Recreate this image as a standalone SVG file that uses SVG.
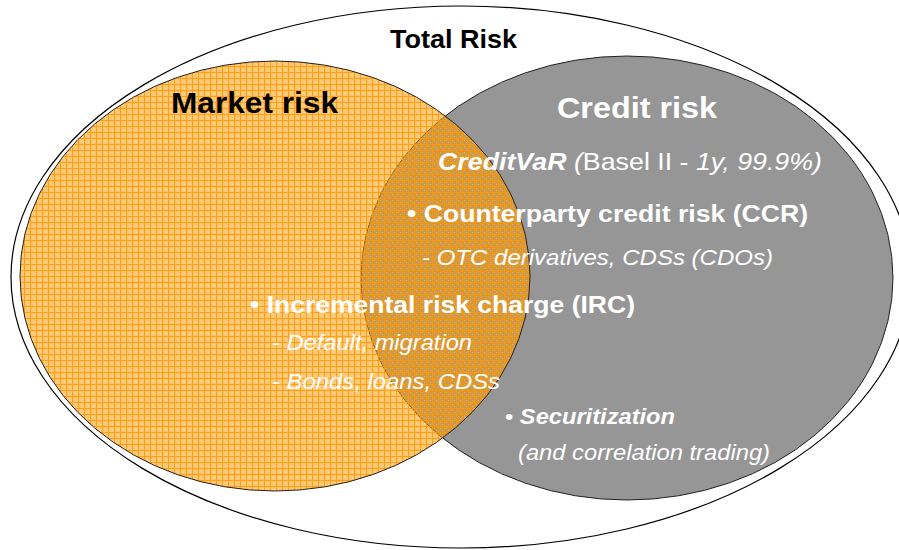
<svg xmlns="http://www.w3.org/2000/svg" width="899" height="550" viewBox="0 0 899 550">
  <defs>
    <!-- woven orange grid used for the market-risk set -->
    <pattern id="weave" width="6" height="6" patternUnits="userSpaceOnUse">
      <rect width="6" height="6" fill="#FF9900" fill-opacity="0.55"/>
      <rect x="2" y="2" width="1" height="1" fill="#FFFFFF" fill-opacity="0.25"/>
      <rect x="4" y="4" width="1" height="1" fill="#FFFFFF" fill-opacity="0.25"/>
      <rect x="0" y="0" width="6" height="1" fill="#FF9900" fill-opacity="0.85"/>
      <rect x="0" y="1" width="1" height="5" fill="#FF9900" fill-opacity="0.85"/>
    </pattern>
    <style>
      .set { stroke: #222; stroke-width: 1; }
      .t { font-family: "Liberation Sans", Arial, sans-serif; }
      .b { font-weight: bold; }
      .i { font-style: italic; }
      .w { fill: #FFFFFF; }
      .k { fill: #000000; }
    </style>
  </defs>

  <rect width="899" height="550" fill="#FFFFFF"/>

  <g id="total-risk">
    <ellipse cx="461" cy="277" rx="450" ry="271" fill="#FFFFFF" stroke="#000" stroke-width="1.2"/>
    <text class="t b k" x="390" y="48" font-size="25" textLength="127" lengthAdjust="spacingAndGlyphs">Total Risk</text>
  </g>

  <g id="credit-risk">
    <ellipse class="set" cx="627" cy="278" rx="266" ry="222" fill="#969696"/>
  </g>

  <g id="market-risk">
    <ellipse class="set" cx="275" cy="276" rx="255" ry="215" fill="url(#weave)"/>
    <text class="t b k" x="171" y="113" font-size="30" textLength="167" lengthAdjust="spacingAndGlyphs">Market risk</text>
  </g>

  <g id="credit-risk-labels">
    <text class="t b w" x="557" y="118" font-size="30" textLength="160" lengthAdjust="spacingAndGlyphs">Credit risk</text>
    <text class="t w" x="438" y="170" font-size="23" textLength="384" lengthAdjust="spacingAndGlyphs"><tspan class="b i">CreditVaR</tspan><tspan class="i"> (</tspan>Basel II - <tspan class="i">1y, 99.9%)</tspan></text>
    <text class="t b w" x="407" y="222" font-size="23" textLength="401" lengthAdjust="spacingAndGlyphs">• Counterparty credit risk (CCR)</text>
    <text class="t i w" x="422" y="265" font-size="22" textLength="351" lengthAdjust="spacingAndGlyphs">- OTC derivatives, CDSs (CDOs)</text>
  </g>

  <g id="irc">
    <text class="t b w" x="250" y="313" font-size="23" textLength="385" lengthAdjust="spacingAndGlyphs">• Incremental risk charge (IRC)</text>
    <text class="t i w" x="272" y="350" font-size="22" textLength="200" lengthAdjust="spacingAndGlyphs">- Default, migration</text>
    <text class="t i w" x="272" y="389" font-size="22" textLength="228" lengthAdjust="spacingAndGlyphs">- Bonds, loans, CDSs</text>
  </g>

  <g id="securitization">
    <text class="t w" x="505" y="424" font-size="22" textLength="170" lengthAdjust="spacingAndGlyphs">• <tspan class="b i">Securitization</tspan></text>
    <text class="t i w" x="518" y="460" font-size="22" textLength="252" lengthAdjust="spacingAndGlyphs">(and correlation trading)</text>
  </g>
</svg>
